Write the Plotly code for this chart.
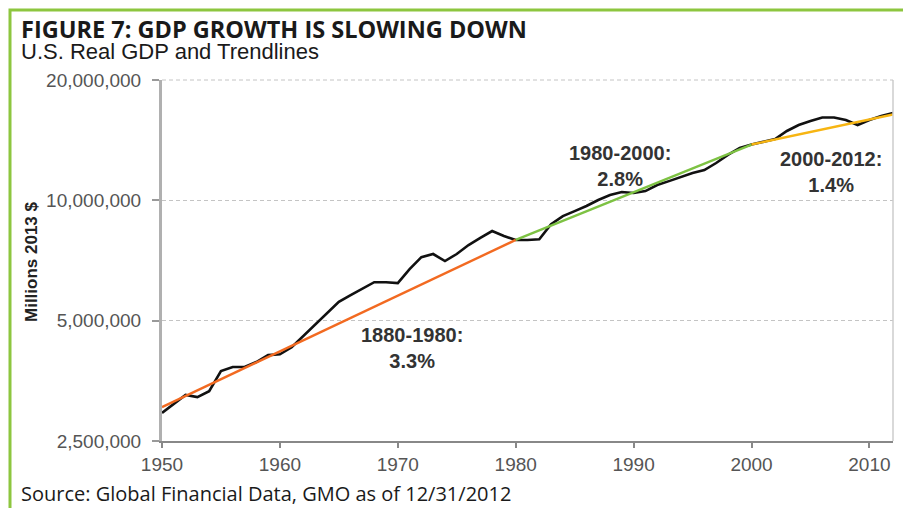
import plotly.graph_objects as go

# ---------------- data ----------------
years = list(range(1950, 2013))
gdp = [2.94e6, 3.09e6, 3.26e6, 3.22e6, 3.33e6, 3.74e6, 3.83e6, 3.83e6, 3.94e6, 4.10e6,
       4.12e6, 4.29e6, 4.58e6, 4.87e6, 5.22e6, 5.57e6, 5.79e6, 6.00e6, 6.24e6, 6.24e6,
       6.21e6, 6.73e6, 7.21e6, 7.34e6, 7.05e6, 7.34e6, 7.73e6, 8.05e6, 8.38e6, 8.14e6,
       7.96e6, 7.96e6, 7.99e6, 8.72e6, 9.13e6, 9.40e6, 9.68e6, 10.02e6, 10.31e6, 10.49e6,
       10.43e6, 10.55e6, 10.92e6, 11.17e6, 11.44e6, 11.70e6, 11.90e6, 12.40e6, 12.99e6, 13.52e6,
       13.79e6, 14.00e6, 14.24e6, 14.91e6, 15.43e6, 15.80e6, 16.12e6, 16.12e6, 15.88e6, 15.43e6,
       15.88e6, 16.26e6, 16.54e6]

trend1_years = [1950, 1980]
trend1_vals = [3.04e6, 7.96e6]
trend2_years = [1980, 2000]
trend2_vals = [7.96e6, 13.79e6]
trend3_years = [2000, 2012]
trend3_vals = [13.79e6, 16.40e6]

trend_labels = ["1880-1980:<br>3.3%", "1980-2000:<br>2.8%", "2000-2012:<br>1.4%"]

x_ticks = [1950, 1960, 1970, 1980, 1990, 2000, 2010]
y_ticks = [2.5e6, 5e6, 10e6, 20e6]
y_tick_text = ["2,500,000", "5,000,000", "10,000,000", "20,000,000"]

title_text = "FIGURE 7: GDP GROWTH IS SLOWING DOWN"
subtitle_text = "U.S. Real GDP and Trendlines"
source_text = "Source: Global Financial Data, GMO as of 12/31/2012"
y_title = "Millions 2013 $"

# ---------------- layout geometry ----------------
W, H = 903, 508
L, R, T, B = 162, 893, 80, 441


def px(x):
    return (x - L) / (R - L)


def py(y):
    return (B - y) / (B - T)


fig = go.Figure()

fig.add_trace(go.Scatter(x=years, y=gdp, mode="lines",
                         line=dict(color="#111111", width=2.6), hoverinfo="skip"))
fig.add_trace(go.Scatter(x=trend1_years, y=trend1_vals, mode="lines",
                         line=dict(color="#f26a21", width=2.4), hoverinfo="skip"))
fig.add_trace(go.Scatter(x=trend2_years, y=trend2_vals, mode="lines",
                         line=dict(color="#7dc243", width=2.4), hoverinfo="skip"))
fig.add_trace(go.Scatter(x=trend3_years, y=trend3_vals, mode="lines",
                         line=dict(color="#f7b512", width=2.4), hoverinfo="skip"))

tick_font = dict(family="Liberation Sans, Arial", size=19, color="#555555")

fig.update_layout(
    width=W, height=H,
    margin=dict(l=L, r=W - R, t=T, b=H - B, pad=0),
    paper_bgcolor="white", plot_bgcolor="white",
    showlegend=False,
    xaxis=dict(range=[1950, 2012], tickvals=x_ticks, ticks="outside", ticklen=5,
               tickcolor="#888888", tickwidth=1.5,
               showgrid=False, zeroline=False,
               showline=True, linecolor="#888888", linewidth=2,
               tickfont=tick_font),
    yaxis=dict(type="log", range=[6.39794, 7.30103], tickvals=y_ticks, ticktext=y_tick_text,
               ticks="outside", ticklen=7, tickcolor="#999999", tickwidth=1.5,
               showgrid=True, gridcolor="#c4c4c4", gridwidth=1, griddash="4px,3px",
               zeroline=False, showline=True, linecolor="#b0b0b0", linewidth=3,
               tickfont=tick_font, ticklabelstandoff=7),
)

# right plot border
fig.add_shape(type="line", xref="paper", yref="paper", x0=1, x1=1, y0=0, y1=1,
              line=dict(color="#cccccc", width=1.5))
# top dashed gridline
fig.add_shape(type="line", xref="paper", yref="paper", x0=0, x1=1, y0=1, y1=1,
              line=dict(color="#c4c4c4", width=1, dash="4px,3px"))
# green frame
fig.add_shape(type="rect", xref="paper", yref="paper",
              x0=px(10), x1=px(930), y0=py(530), y1=py(10),
              line=dict(color="#8dc63f", width=3), layer="below")

ann_font = dict(family="Liberation Sans, Arial", size=20, color="#333333")
label_pos = [(412, 348), (620, 166), (831, 171.5)]
for txt, (lx, ly) in zip(trend_labels, label_pos):
    fig.add_annotation(xref="paper", yref="paper", x=px(lx), y=py(ly), text="<b>" + txt + "</b>",
                       showarrow=False, align="center", xanchor="center", yanchor="middle",
                       font=ann_font)

fig.add_annotation(xref="paper", yref="paper", x=px(19), y=py(28), text="<b>" + title_text + "</b>",
                   showarrow=False, xanchor="left", yanchor="middle", height=21,
                   font=dict(family="Open Sans", size=23.5, color="#1a1a1a"))
fig.add_annotation(xref="paper", yref="paper", x=px(19), y=py(51), text=subtitle_text,
                   showarrow=False, xanchor="left", yanchor="middle", height=21,
                   font=dict(family="Liberation Sans, Arial", size=22, color="#1a1a1a"))
fig.add_annotation(xref="paper", yref="paper", x=px(19), y=py(493), text=source_text,
                   showarrow=False, xanchor="left", yanchor="middle",
                   font=dict(family="Open Sans", size=20, color="#1a1a1a"))
fig.add_annotation(xref="paper", yref="paper", x=px(31), y=py(262), text="<b>" + y_title + "</b>",
                   showarrow=False, textangle=-90, xanchor="center", yanchor="middle",
                   font=dict(family="Liberation Sans, Arial", size=17, color="#222222"))

fig.write_html("out.html", config={"displayModeBar": False},
               post_script="document.body.style.margin='0px';document.body.style.overflow='hidden';")
